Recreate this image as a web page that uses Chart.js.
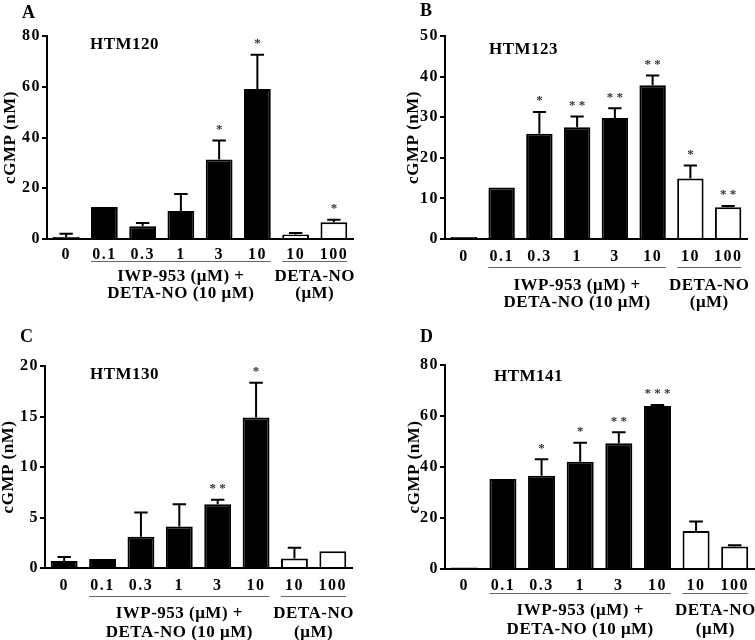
<!DOCTYPE html>
<html>
<head>
<meta charset="utf-8">
<script src="https://cdn.jsdelivr.net/npm/chart.js"></script>
<style>
    body { margin: 0; background: #fff; }
    #fig { position: relative; width: 755px; height: 640px; }
    #fig canvas { position: absolute; }
</style>
</head>
<body>
<div id="fig">
    <canvas id="cA" width="377" height="320" style="left:0;top:0"></canvas>
    <canvas id="cB" width="378" height="320" style="left:377px;top:0"></canvas>
    <canvas id="cC" width="377" height="320" style="left:0;top:320px"></canvas>
    <canvas id="cD" width="378" height="320" style="left:377px;top:320px"></canvas>
</div>
<script>
    // Categories (IWP-953 doses, then DETA-NO alone)
    const doseLabels = ['0', '0.1', '0.3', '1', '3', '10', '10', '100'];
    const groupOf = ['ctrl', 'combo', 'combo', 'combo', 'combo', 'combo', 'deta', 'deta'];
    const comboLines = ['IWP-953 (\u03bcM) +', 'DETA-NO (10 \u03bcM)'];
    const detaLines = ['DETA-NO', '(\u03bcM)'];
    const yTitle = 'cGMP (nM)';

    // HTM120
    const htm120Mean = [0.8, 12.6, 5.0, 11.0, 31.3, 59.1, 1.8, 6.6];
    const htm120Err = [1.3, 0, 1.3, 6.7, 7.5, 13.5, 0.6, 1.0];
    const htm120Stars = ['', '', '', '', '*', '*', '', '*'];
    const htm120Ticks = [0, 20, 40, 60, 80];

    // HTM123
    const htm123Mean = [0.5, 12.7, 25.9, 27.5, 29.8, 37.9, 14.9, 7.8];
    const htm123Err = [0, 0, 5.4, 2.7, 2.4, 2.4, 3.2, 0.3];
    const htm123Stars = ['', '', '*', '**', '**', '**', '*', '**'];
    const htm123Ticks = [0, 10, 20, 30, 40, 50];

    // HTM130
    const htm130Mean = [0.7, 0.9, 3.1, 4.1, 6.3, 14.9, 0.95, 1.65];
    const htm130Err = [0.4, 0, 2.4, 2.2, 0.45, 3.45, 1.05, 0];
    const htm130Stars = ['', '', '', '', '**', '*', '', ''];
    const htm130Ticks = [0, 5, 10, 15, 20];

    // HTM141
    const htm141Mean = [0.6, 35.3, 36.6, 42.1, 49.3, 63.9, 14.9, 8.8];
    const htm141Err = [0, 0, 6.4, 7.4, 4.3, 0.4, 3.7, 0.5];
    const htm141Stars = ['', '', '*', '*', '**', '***', '', ''];
    const htm141Ticks = [0, 20, 40, 60, 80];

    const SERIF = "'Liberation Serif', 'Times New Roman', serif";

    const panels = [
        { id: 'cA', letter: 'A', name: 'HTM120', mean: htm120Mean, err: htm120Err, stars: htm120Stars, ticks: htm120Ticks,
          area: { l: 47, r: 353, t: 36, b: 239 }, tickPad: 6, ul: 22, g1: 38, g2: 55, titleX: 11, letterX: 22, letterY: 13, nameX: 90, nameY: 45 },
        { id: 'cB', letter: 'B', name: 'HTM123', mean: htm123Mean, err: htm123Err, stars: htm123Stars, ticks: htm123Ticks,
          area: { l: 68, r: 370, t: 36, b: 239 }, tickPad: 8, ul: 28, g1: 47, g2: 64, titleX: 37, letterX: 43, letterY: 11, nameX: 112, nameY: 50 },
        { id: 'cC', letter: 'C', name: 'HTM130', mean: htm130Mean, err: htm130Err, stars: htm130Stars, ticks: htm130Ticks,
          area: { l: 45, r: 352, t: 46, b: 248 }, tickPad: 8, ul: 28, g1: 46, g2: 65, titleX: 9, letterX: 20, letterY: 17, nameX: 90, nameY: 55 },
        { id: 'cD', letter: 'D', name: 'HTM141', mean: htm141Mean, err: htm141Err, stars: htm141Stars, ticks: htm141Ticks,
          area: { l: 68, r: 377, t: 45, b: 249 }, tickPad: 7, ul: 24, g1: 42, g2: 61, titleX: 38, letterX: 43, letterY: 17, nameX: 117, nameY: 57 }
    ];

    // error bars, stars and all the extra labels
    function makeDecor(p) {
        return {
            id: 'decor' + p.letter,
            beforeDraw(chart) {
                // the reference type is set a little wide
                chart.ctx.letterSpacing = '1.5px';
            },
            afterDatasetsDraw(chart) {
                const ctx = chart.ctx;
                const y = chart.scales.y;
                const bars = chart.getDatasetMeta(0).data;
                ctx.save();
                ctx.letterSpacing = '0px';
                ctx.strokeStyle = '#000';
                ctx.lineWidth = 2;
                bars.forEach((bar, i) => {
                    const top = y.getPixelForValue(p.mean[i] + p.err[i]);
                    const cap = bar.width / 4;
                    if (p.err[i] > 0) {
                        ctx.beginPath();
                        ctx.moveTo(bar.x, bar.y);
                        ctx.lineTo(bar.x, top);
                        ctx.moveTo(bar.x - cap, top);
                        ctx.lineTo(bar.x + cap, top);
                        ctx.stroke();
                    }
                    if (p.stars[i]) {
                        ctx.fillStyle = '#333';
                        ctx.font = 'bold 13px ' + SERIF;
                        ctx.textAlign = 'center';
                        ctx.textBaseline = 'middle';
                        ctx.fillText(p.stars[i].split('').join(' '), bar.x, top - 11);
                    }
                });
                ctx.restore();
            },
            afterDraw(chart) {
                const ctx = chart.ctx;
                const area = chart.chartArea;
                const bars = chart.getDatasetMeta(0).data;
                ctx.save();
                ctx.letterSpacing = '0.5px';
                ctx.fillStyle = '#000';

                // panel letter and cell line name
                ctx.font = 'bold 18px ' + SERIF;
                ctx.textAlign = 'left';
                ctx.textBaseline = 'middle';
                ctx.fillText(p.letter, p.letterX, p.letterY);
                ctx.font = 'bold 17px ' + SERIF;
                ctx.fillText(p.name, p.nameX, p.nameY);

                // y title
                ctx.save();
                ctx.translate(p.titleX, (area.top + area.bottom) / 2);
                ctx.rotate(-Math.PI / 2);
                ctx.textAlign = 'center';
                ctx.font = 'bold 17px ' + SERIF;
                ctx.fillText(yTitle, 0, 0);
                ctx.restore();

                // group underlines + labels
                const groups = [['combo', comboLines], ['deta', detaLines]];
                groups.forEach(([g, lines]) => {
                    const idx = groupOf.map((v, i) => v === g ? i : -1).filter(i => i >= 0);
                    const first = bars[idx[0]];
                    const last = bars[idx[idx.length - 1]];
                    const x0 = first.x - first.width / 2;
                    const x1 = last.x + last.width / 2;
                    ctx.strokeStyle = '#666';
                    ctx.lineWidth = 1;
                    ctx.beginPath();
                    ctx.moveTo(x0, area.bottom + p.ul + 0.5);
                    ctx.lineTo(x1, area.bottom + p.ul + 0.5);
                    ctx.stroke();
                    const cx = (first.x + last.x) / 2;
                    ctx.font = 'bold 17px ' + SERIF;
                    ctx.textAlign = 'center';
                    ctx.fillText(lines[0], cx, area.bottom + p.g1);
                    ctx.fillText(lines[1], cx, area.bottom + p.g2);
                });
                ctx.restore();
                ctx.letterSpacing = '0px';
            }
        };
    }

    function initPanel(p) {
        const canvas = document.getElementById(p.id);
        const W = canvas.width, H = canvas.height;
        new Chart(canvas.getContext('2d'), {
            type: 'bar',
            data: {
                labels: doseLabels,
                datasets: [{
                    data: p.mean,
                    backgroundColor: groupOf.map(g => g === 'deta' ? '#fff' : '#000'),
                    borderColor: '#000',
                    borderWidth: 2,
                    barPercentage: 0.7,
                    categoryPercentage: 1.0
                }]
            },
            options: {
                responsive: false,
                animation: false,
                devicePixelRatio: 1,
                layout: { padding: { left: 0, right: W - p.area.r, top: p.area.t, bottom: 0 } },
                plugins: { legend: { display: false }, tooltip: { enabled: false } },
                scales: {
                    x: {
                        grid: { display: false, drawTicks: false },
                        border: { display: true, color: '#000', width: 2 },
                        ticks: { color: '#000', padding: p.tickPad, font: { family: SERIF, size: 16, weight: 'bold' }, maxRotation: 0, autoSkip: false },
                        afterFit: s => { s.height = H - p.area.b; }
                    },
                    y: {
                        min: 0,
                        max: p.ticks[p.ticks.length - 1],
                        afterBuildTicks: s => { s.ticks = p.ticks.map(v => ({ value: v })); },
                        grid: { drawOnChartArea: false, drawTicks: true, tickLength: 5, color: '#000', lineWidth: 2 },
                        border: { display: true, color: '#000', width: 2 },
                        ticks: { color: '#000', padding: 1, font: { family: SERIF, size: 16, weight: 'bold' } },
                        afterFit: s => { s.width = p.area.l; }
                    }
                }
            },
            plugins: [makeDecor(p)]
        });
    }

    document.addEventListener('DOMContentLoaded', function() {
        panels.forEach(initPanel);
    });
</script>
</body>
</html>
